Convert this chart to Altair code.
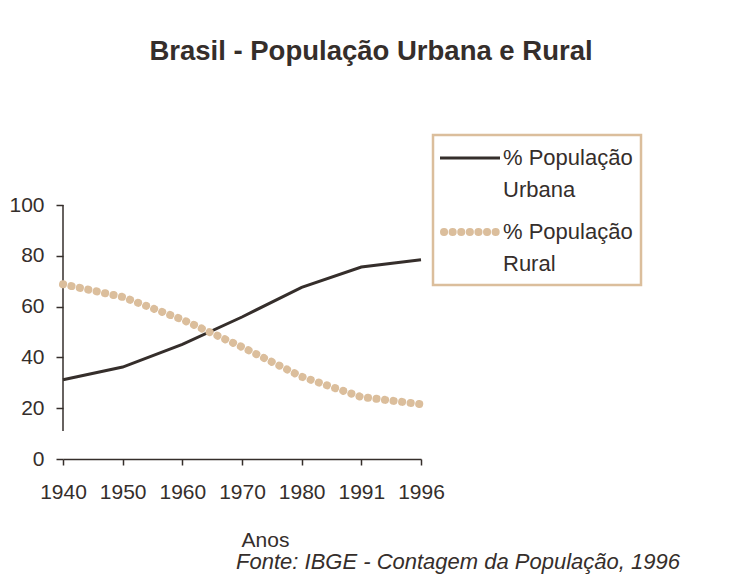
import altair as alt
import pandas as pd

# ---- data ----
anos = ["1940", "1950", "1960", "1970", "1980", "1991", "1996"]
urbana = [31.2, 36.2, 45.1, 55.9, 67.6, 75.6, 78.4]
rural = [68.8, 63.8, 54.9, 44.1, 32.4, 24.4, 21.6]
y_ticks = [0, 20, 40, 60, 80, 100]

df_u = pd.DataFrame({"ano": anos, "valor": urbana})
df_r = pd.DataFrame({"ano": anos, "valor": rural})

W, H = 358, 254
FONT = "Liberation Sans"
INK = "#352e2b"
TAN = "#dbbe9c"

x_enc = alt.X(
    "ano:O",
    scale=alt.Scale(type="point", padding=0, domain=anos),
    axis=alt.Axis(
        title="Anos", labelAngle=0, labelFontSize=21, labelFont=FONT, labelColor=INK,
        labelPadding=16, tickSize=6, tickColor=INK, domainColor=INK, domainWidth=1.5,
        tickWidth=1.5, titleX=202, titleY=81, titleBaseline="middle", titleAlign="center",
        titleFontSize=21, titleFont=FONT, titleFontWeight="normal", titleColor=INK,
    ),
)
y_enc = alt.Y(
    "valor:Q",
    scale=alt.Scale(domain=[0, 100], nice=False),
    axis=alt.Axis(
        title=None, values=y_ticks, labelFontSize=21, labelFont=FONT, labelColor=INK,
        labelPadding=12, tickSize=7, tickColor=INK, tickWidth=1.5, domain=False, grid=False,
    ),
)

line_u = alt.Chart(df_u).mark_line(color=INK, strokeWidth=3).encode(x=x_enc, y=y_enc)
line_r = alt.Chart(df_r).mark_line(
    color=TAN, strokeWidth=8, strokeDash=[0.1, 8.5], strokeCap="round"
).encode(x=x_enc, y=y_enc)

one = alt.Data(values=[{}])

y_domain = alt.Chart(one).mark_rule(color=INK, strokeWidth=1.5).encode(
    x=alt.value(0), y=alt.value(0), y2=alt.value(226)
)

legend_box = alt.Chart(one).mark_rect(filled=False, stroke=TAN, strokeWidth=2.5).encode(
    x=alt.value(370), x2=alt.value(578), y=alt.value(-70), y2=alt.value(80)
)
leg_u = alt.Chart(one).mark_rule(color=INK, strokeWidth=3).encode(
    x=alt.value(377), x2=alt.value(437), y=alt.value(-47)
)
leg_r = alt.Chart(one).mark_rule(
    color=TAN, strokeWidth=8, strokeDash=[0.1, 8.5], strokeCap="round"
).encode(x=alt.value(381), x2=alt.value(437), y=alt.value(27))


def txt(s, xv, yv, size=22, style="normal", align="left", weight="normal"):
    return alt.Chart(one).mark_text(
        align=align, baseline="middle", font=FONT, fontSize=size, fontStyle=style,
        fontWeight=weight, color=INK
    ).encode(x=alt.value(xv), y=alt.value(yv), text=alt.value(s))


texts = [
    txt("Brasil - População Urbana e Rural", 308, -153, size=27.5, weight="bold", align="center"),
    txt("% População", 440, -47),
    txt("Urbana", 440, -15),
    txt("% População", 440, 27),
    txt("Rural", 440, 59),
    txt("Fonte: IBGE - Contagem da População, 1996", 395, 357, size=22, style="italic", align="center"),
]

chart = alt.layer(y_domain, line_u, line_r, legend_box, leg_u, leg_r, *texts).properties(
    width=W,
    height=H,
    autosize=alt.AutoSizeParams(type="none"),
    padding={"left": 55, "top": 197, "right": 300, "bottom": 122},
    background="white",
).configure_view(stroke=None)

chart.save("out.html", embed_options={"renderer": "svg", "actions": False})
